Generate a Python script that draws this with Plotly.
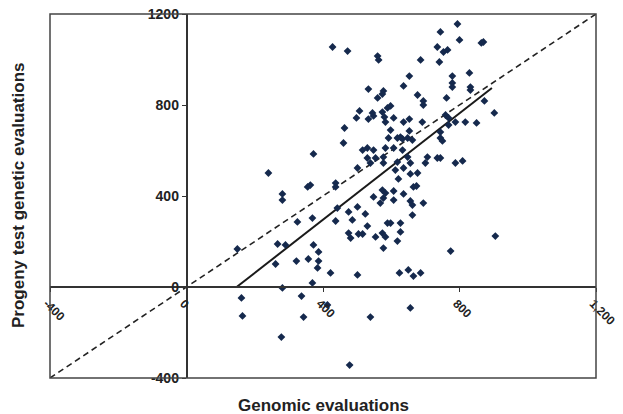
import plotly.graph_objects as go

# Genomic evaluations (x) and progeny test genetic evaluations (y)
genomic = [
    794, 744, 800, 864, 870, 735, 765, 753, 428, 472, 560, 563, 686, 741, 653, 636,
    779, 829, 779, 779, 832, 832, 533, 577, 574, 560, 677, 694, 694, 762, 873, 598,
    589, 507, 498, 545, 548, 533, 574, 580, 583, 607, 636, 653, 691, 759, 768, 788,
    817, 850, 902, 463, 598, 653, 744, 768, 460, 627, 592, 618, 633, 648, 662, 744,
    750, 516, 530, 548, 530, 554, 577, 583, 607, 633, 706, 735, 744, 788, 809, 618,
    656, 539, 577, 501, 612, 636, 656, 677, 621, 665, 674, 574, 583, 607, 548, 577,
    636, 568, 607, 656, 662, 694, 524, 662, 530, 589, 598, 627, 627, 516, 554, 574,
    583, 618, 577, 774, 905, 372, 240, 355, 363, 437, 437, 281, 281, 442, 501, 369,
    325, 437, 475, 486, 475, 481, 504, 149, 267, 290, 372, 387, 261, 322, 357, 387,
    384, 422, 501, 369, 281, 161, 337, 164, 343, 278, 478, 413, 624, 650, 665, 686,
    539, 656, 700, 648,
]
progeny = [
    1156, 1121, 1086, 1073, 1077, 1055, 1042, 1033, 1055, 1037, 1015, 998, 998, 989, 927, 884,
    927, 941, 897, 879, 879, 866, 870, 862, 848, 831, 844, 818, 800, 831, 818, 796,
    787, 774, 743, 765, 752, 738, 769, 747, 725, 743, 725, 738, 725, 756, 743, 725,
    725, 721, 765, 699, 690, 686, 681, 712, 633, 659, 655, 655, 651, 655, 646, 655,
    642, 602, 611, 602, 567, 567, 571, 611, 611, 602, 571, 567, 567, 545, 554, 549,
    545, 545, 545, 523, 514, 523, 497, 501, 475, 440, 444, 426, 413, 422, 396, 391,
    409, 369, 382, 378, 360, 369, 321, 316, 268, 281, 281, 281, 242, 233, 220, 237,
    220, 202, 171, 158, 224, 585, 501, 440, 448, 457, 440, 409, 382, 347, 352, 303,
    286, 290, 330, 295, 237, 215, 233, 167, 189, 185, 185, 154, 101, 114, 123, 114,
    84, 62, 53, 18, -4, -48, -40, -127, -132, -220, -343, -79, 62, 75, 48, 62,
    -132, -92, 545, 571,
]

# Regression line endpoints (solid) and the 1:1 line (dashed)
reg_x = [147, 895]
reg_y = [0, 875]
ident = [-400, 1200]

x_ticks = [-400, 0, 400, 800, 1200]
x_tick_text = ["-400", "0", "400", "800", "1,200"]
y_ticks = [-400, 0, 400, 800, 1200]
y_tick_text = ["-400", "0", "400", "800", "1200"]

font_family = "Liberation Sans, Arial, sans-serif"
y_tick_font = dict(size=14, family=font_family, color="#222222", weight="bold")
x_tick_font = dict(size=12, family=font_family, color="#222222", weight="bold")

fig = go.Figure()
fig.add_trace(go.Scatter(
    x=ident, y=ident, mode="lines",
    line=dict(color="#222222", width=1.6, dash="6px,4px"),
    hoverinfo="skip", showlegend=False,
))
fig.add_trace(go.Scatter(
    x=reg_x, y=reg_y, mode="lines",
    line=dict(color="#1a1a1a", width=2),
    hoverinfo="skip", showlegend=False,
))
fig.add_trace(go.Scatter(
    x=genomic, y=progeny, mode="markers",
    marker=dict(symbol="diamond", size=6, color="#15294d"),
    showlegend=False,
))

# the page body has an 8px margin, so the figure is 8px smaller than the window
fig.update_layout(
    width=615, height=406,
    margin=dict(l=42, r=27, t=6, b=36),
    paper_bgcolor="white", plot_bgcolor="white",
    font=dict(family=font_family, color="#222222"),
    xaxis=dict(
        range=[-400, 1200], anchor="free", position=0.25,
        showgrid=False, zeroline=False,
        showline=True, linecolor="#333333", linewidth=1.5,
        tickmode="array", tickvals=x_ticks, ticktext=x_tick_text,
        ticks="outside", ticklen=4, tickcolor="#333333",
        tickangle=45, tickfont=x_tick_font, ticklabelshift=-3,
        ticklabeloverflow="allow",
        automargin=False,
    ),
    yaxis=dict(
        range=[-400, 1200], anchor="free", position=0.25,
        showgrid=False, zeroline=False,
        showline=True, linecolor="#333333", linewidth=1.5,
        tickmode="array", tickvals=y_ticks, ticktext=y_tick_text,
        ticks="outside", ticklen=4, tickcolor="#333333",
        tickfont=y_tick_font,
        ticklabeloverflow="allow",
        automargin=False,
    ),
    shapes=[dict(
        type="rect", xref="paper", yref="paper", x0=0, y0=0, x1=1, y1=1,
        line=dict(color="#444444", width=1.5), layer="above",
    )],
    annotations=[
        dict(text="<b>Genomic evaluations</b>", xref="paper", yref="paper",
             x=0.5, y=0, yshift=-27, showarrow=False, xanchor="center", yanchor="middle",
             font=dict(size=17, family=font_family, color="#222222")),
        dict(text="<b>Progeny test genetic evaluations</b>", xref="paper", yref="paper",
             x=0, xshift=-32, y=0.5, showarrow=False, textangle=-90,
             xanchor="center", yanchor="middle",
             font=dict(size=17, family=font_family, color="#222222")),
    ],
)

fig.write_html("out.html")
